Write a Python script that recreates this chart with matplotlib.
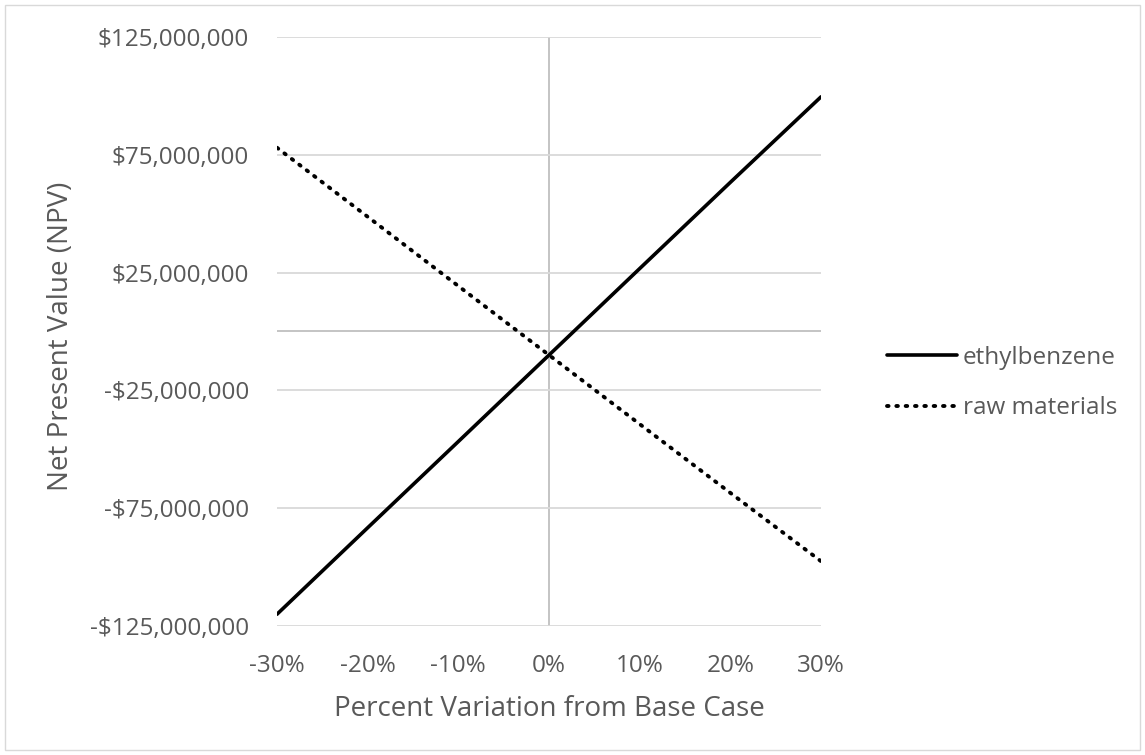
import matplotlib
matplotlib.use("Agg")
import matplotlib.pyplot as plt
from matplotlib.ticker import FuncFormatter
from matplotlib.patches import Rectangle

variation = [-30, -20, -10, 0, 10, 20, 30]
ethylbenzene = [-120.0e6, -83.3e6, -46.7e6, -10.0e6, 26.7e6, 63.3e6, 99.6e6]
raw_materials = [78.0e6, 48.7e6, 19.3e6, -10.0e6, -39.3e6, -68.5e6, -97.5e6]
series_names = ["ethylbenzene", "raw materials"]
y_ticks = [-125e6, -75e6, -25e6, 25e6, 75e6, 125e6]

plt.rcParams['font.family'] = ['Open Sans', 'DejaVu Sans']
gray = '#595959'
grid = '#d9d9d9'

W, H = 1145, 755
fig = plt.figure(figsize=(W / 100, H / 100), dpi=100)
fig.patches.append(Rectangle((0.004, 0.006), 0.992, 0.988, transform=fig.transFigure,
                             fill=False, edgecolor='#d9d9d9', linewidth=1))
ax = fig.add_axes([277 / W, 1 - 626 / H, (821 - 277) / W, (626 - 37) / H])

ax.plot(variation, ethylbenzene, color='black', linewidth=2.6, solid_capstyle='round',
        label=series_names[0], zorder=3)
ax.plot(variation, raw_materials, color='black', linewidth=2.8, linestyle=(0, (0.4, 2.0)),
        dash_capstyle='round', label=series_names[1], zorder=3)

ax.set_xlim(-30, 30)
ax.set_ylim(-125e6, 125e6)
ax.set_yticks(y_ticks)
ax.set_xticks(variation)

def yfmt(v, pos):
    s = "${:,.0f}".format(abs(v))
    return ("-" + s) if v < 0 else s
ax.yaxis.set_major_formatter(FuncFormatter(yfmt))
ax.xaxis.set_major_formatter(FuncFormatter(lambda v, p: "{:.0f}%".format(v)))

ax.grid(axis='y', color=grid, linewidth=1.3, zorder=0)
ax.axhline(0, color='#bfbfbf', linewidth=1.3, zorder=1)
ax.axvline(0, color='#bfbfbf', linewidth=1.3, zorder=1)
for s in ax.spines.values():
    s.set_visible(False)
ax.tick_params(axis='both', length=0, labelsize=17.5, labelcolor=gray)
ax.tick_params(axis='x', pad=20)
ax.tick_params(axis='y', pad=20)

fig.text(549 / W, 1 - 716 / H, "Percent Variation from Base Case", fontsize=20,
         color=gray, ha='center', va='baseline')
fig.text(61 / W, 1 - 336 / H, "Net Present Value (NPV)", fontsize=20,
         color=gray, ha='center', va='center', rotation=90)

leg = fig.legend(*ax.get_legend_handles_labels(), loc='center left',
                 bbox_to_anchor=(887 / W, 1 - 383 / H), frameon=False,
                 fontsize=17.5, handlelength=2.88, handletextpad=0.25, labelspacing=1.08,
                 borderaxespad=0, borderpad=0)
for t in leg.get_texts():
    t.set_color(gray)

fig.savefig("out.png", dpi=100)
